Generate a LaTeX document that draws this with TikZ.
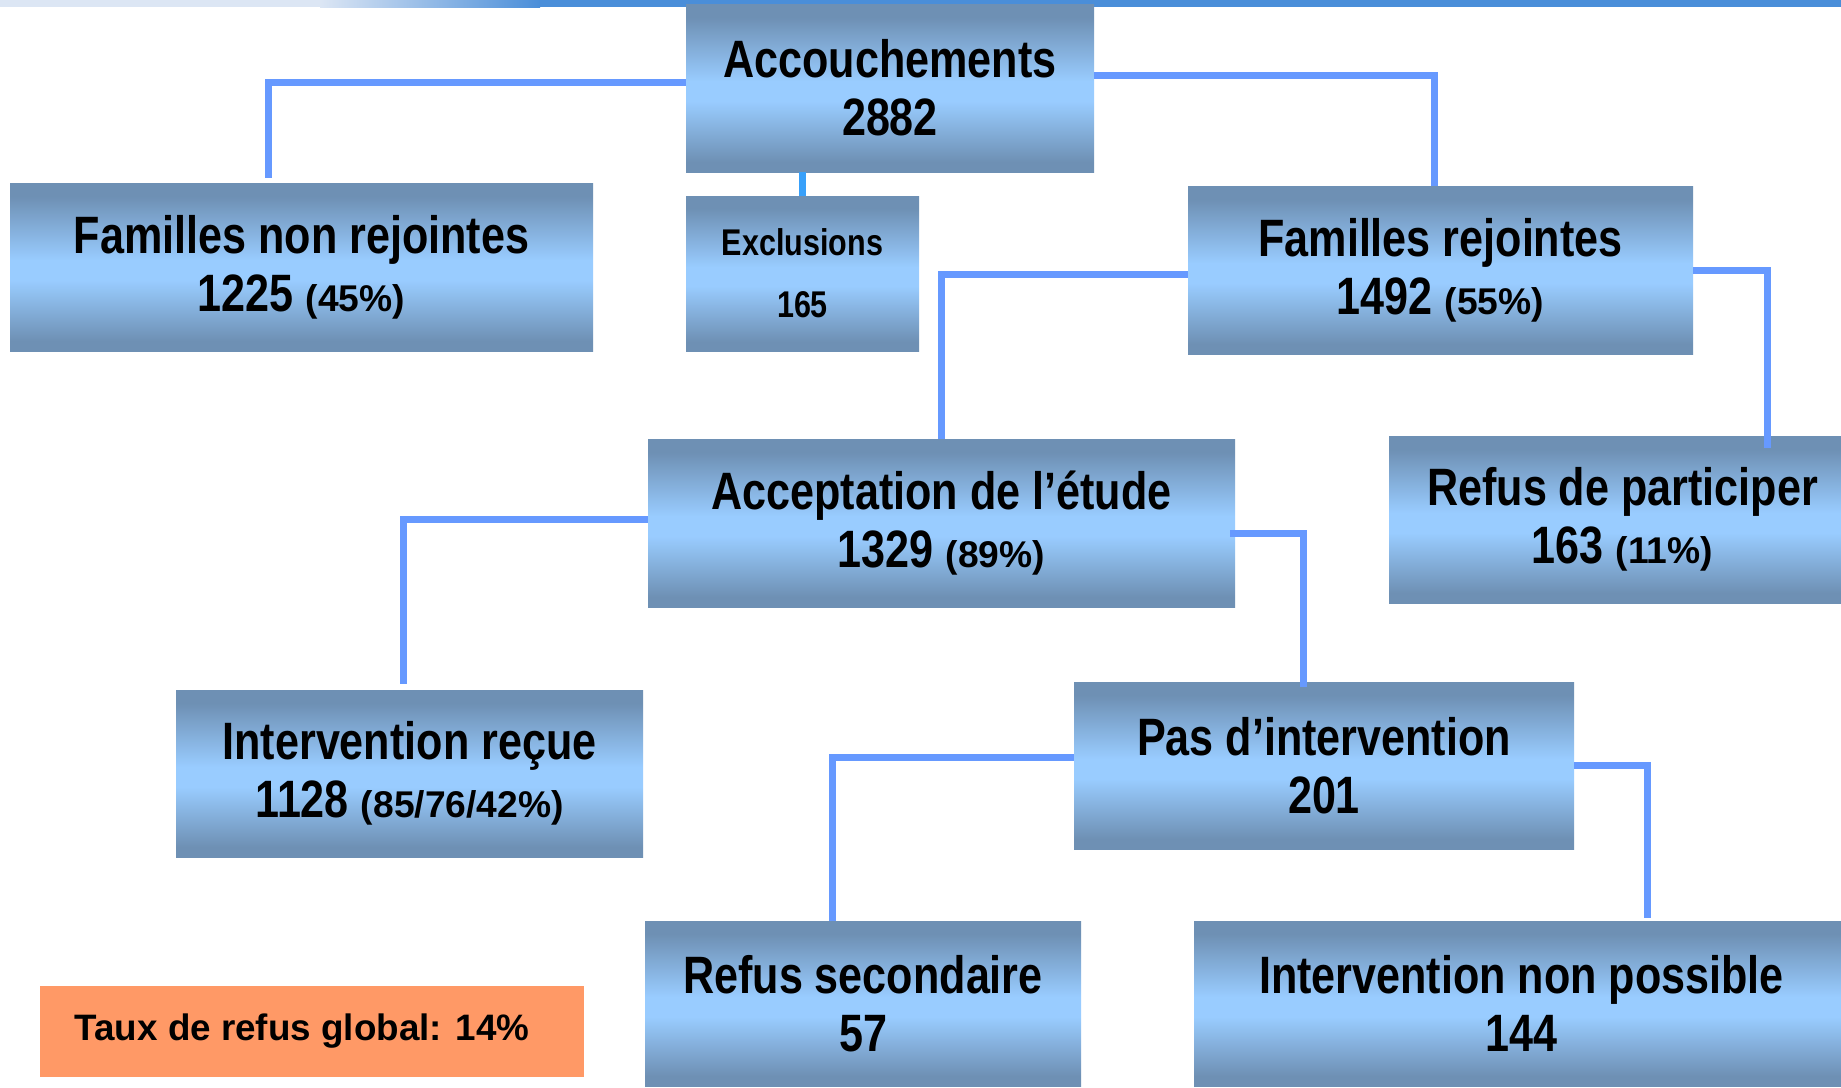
\documentclass[tikz,border=0pt]{standalone}
\usepackage{fontspec}
\setmainfont{Liberation Sans}[FakeStretch=0.82]
\newfontfamily\widefont{Liberation Sans}
\definecolor{steelc}{RGB}{110,144,180}
\definecolor{lightc}{RGB}{153,204,255}
\definecolor{connc}{RGB}{102,153,255}
\definecolor{excc}{RGB}{56,160,250}
\definecolor{orangec}{RGB}{255,153,102}
\definecolor{barblue}{RGB}{74,142,217}
\definecolor{barlight}{RGB}{220,230,244}
\pgfdeclareverticalshading{boxshade}{100bp}{color(0bp)=(steelc); color(25bp)=(steelc); color(28bp)=(steelc); color(46bp)=(lightc); color(52bp)=(lightc); color(71bp)=(steelc); color(75bp)=(steelc); color(100bp)=(steelc)}
\newcommand\smallpct[1]{{\widefont\bfseries\fontsize{18.6pt}{20pt}\selectfont #1}}
\tikzset{
  fbox/.style={shade, shading=boxshade, inner sep=0pt, align=center,
    font=\bfseries\fontsize{26.3pt}{29pt}\selectfont},
  exbox/.style={fbox, font=\bfseries\fontsize{18.6pt}{31pt}\selectfont},
  orbox/.style={fill=orangec, inner sep=0pt, align=center,
    font=\widefont\bfseries\fontsize{18.4pt}{20pt}\selectfont},
  conn/.style={line width=3.5pt, draw=connc, line join=miter},
}
\begin{document}
\begin{tikzpicture}[x=0.5pt, y=-0.5pt]
\useasboundingbox (0,0) rectangle (1841,1087);
\clip (0,0) rectangle (1841,1087);
\fill[white] (0,0) rectangle (1841,1087);
% top bar
\fill[barlight] (0,0) rectangle (321,7.3);
\shade[left color=barlight, right color=barblue] (320,0) rectangle (540,7.3);
\fill[barblue] (539,0) rectangle (1841,7.3);
% boxes
\node[fbox, minimum width=204pt, minimum height=84pt] (acc) at (890,88) {Accouchements\\2882};
\node[fbox, minimum width=291.5pt, minimum height=84pt] (fnr) at (301.5,267) {Familles non rejointes\\1225 \smallpct{(45\%)}};
\node[exbox, minimum width=116.5pt, minimum height=77.5pt] (exc) at (802.5,273.5) {Exclusions\\165};
\node[fbox, minimum width=252.5pt, minimum height=84pt] (fr) at (1440.5,270) {Familles rejointes\\1492 \smallpct{(55\%)}};
\node[fbox, minimum width=293.5pt, minimum height=84pt] (acpt) at (941.5,523) {Acceptation de l’étude\\1329 \smallpct{(89\%)}};
\node[fbox, minimum width=233.5pt, minimum height=83.5pt] (rdp) at (1622.5,519.5) {Refus de participer\\163 \smallpct{(11\%)}};
\node[fbox, minimum width=233.5pt, minimum height=83.5pt] (ir) at (409.5,773.5) {Intervention reçue\\1128 \smallpct{(85/76/42\%)}};
\node[fbox, minimum width=250pt, minimum height=83.5pt] (pdi) at (1324,765.5) {Pas d’intervention\\201};
\node[fbox, minimum width=218pt, minimum height=82.5pt] (rs) at (863,1003.5) {Refus secondaire\\57};
\node[fbox, minimum width=327.5pt, minimum height=82.5pt] (inp) at (1521.5,1003.5) {Intervention non possible\\144};
\node[orbox, minimum width=272pt, minimum height=45.5pt] (taux) at (312,1031.5) {Taux de refus global: 14\%\hspace*{10pt}};
% connectors
\draw[conn] ([yshift=3pt]acc.west) -| ([xshift=-16.75pt,yshift=2.5pt]fnr.north);
\draw[conn] ([yshift=6.5pt]acc.east) -| ([xshift=-3.25pt]fr.north);
\draw[conn, draw=excc] (exc.north |- acc.south) -- (exc.north);
\draw[conn] ([yshift=-2pt]fr.west) -| (acpt.north);
\draw[conn] (fr.east) -| ([xshift=72.25pt,yshift=-6pt]rdp.north);
\draw[conn] ([yshift=2pt]acpt.west) -| ([xshift=-3.25pt,yshift=3pt]ir.north);
\draw[conn] ([xshift=-2.5pt,yshift=-5pt]acpt.east) -| ([xshift=-10.5pt,yshift=-2.5pt]pdi.north);
\draw[conn] ([yshift=4.25pt]pdi.west) -| ([xshift=-15.5pt]rs.north);
\draw[conn] (pdi.east) -| ([xshift=62.75pt,yshift=1.5pt]inp.north);
\end{tikzpicture}
\end{document}
